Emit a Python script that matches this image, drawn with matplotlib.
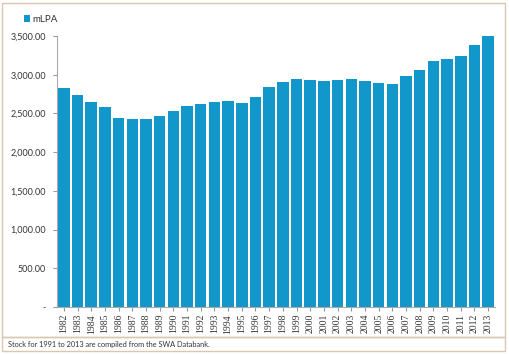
import matplotlib

matplotlib.use('Agg')
import matplotlib.pyplot as plt
from matplotlib.patches import Rectangle
from matplotlib.ticker import FuncFormatter

plt.rcParams['font.family'] = ['Lato', 'DejaVu Sans']

years = [str(y) for y in range(1982, 2014)]
mlpa = [2826, 2739, 2651, 2586, 2443, 2430, 2422, 2465, 2534, 2595,
        2621, 2647, 2656, 2639, 2717, 2840, 2901, 2940, 2935, 2918,
        2926, 2940, 2922, 2892, 2882, 2986, 3064, 3173, 3204, 3238,
        3380, 3503]
note = "Stock for 1991 to 2013 are compiled from the SWA Databank."

W, H = 510, 354
fig = plt.figure(figsize=(W / 100, H / 100), dpi=100)

# axes placed in pixel terms
left, right, top, bottom = 57, 495, 36, 307
ax = fig.add_axes([left / W, 1 - bottom / H, (right - left) / W, (bottom - top) / H])

ax.bar(range(len(years)), mlpa, width=0.84, color='#1197C9', label='mLPA')
ax.set_xlim(-0.5, len(years) - 0.5)
ax.set_ylim(0, 3500)
ax.set_yticks(range(0, 3501, 500))


def fmt(v, pos):
    if v == 0:
        return '-'
    return f"{v:,.2f}"


ax.yaxis.set_major_formatter(FuncFormatter(fmt))
ax.set_xticks(range(len(years)))
ax.set_xticklabels(years, rotation=90, family='Liberation Serif')
ax.tick_params(axis='y', labelsize=6.5, colors='#999999', labelcolor='#333333', length=3, width=0.8, pad=5)
ax.tick_params(axis='x', labelsize=7, colors='#999999', labelcolor='#333333', length=3, width=0.8, pad=2)
for s in ['top', 'right']:
    ax.spines[s].set_visible(False)
for s in ['left', 'bottom']:
    ax.spines[s].set_color('#aaaaaa')
    ax.spines[s].set_linewidth(0.8)

leg = ax.legend(loc='upper left', bbox_to_anchor=(24 / W, 1 - 15 / H), bbox_transform=fig.transFigure,
                frameon=False, fontsize=7, handlelength=0.6, handleheight=0.6, handletextpad=0.3,
                borderpad=0, borderaxespad=0)
for t in leg.get_texts():
    t.set_color('#333333')

# outer chart frame and note box
border = '#D8C8B0'
fig.patches.append(Rectangle((2 / W, 1 - 337 / H), 503 / W, 334 / H, transform=fig.transFigure,
                             fill=False, edgecolor=border, linewidth=1))
fig.patches.append(Rectangle((2 / W, 1 - 351 / H), 503 / W, 14 / H, transform=fig.transFigure,
                             fill=False, edgecolor=border, linewidth=1))
fig.text(8 / W, 1 - 344 / H, note, fontsize=5.3, color='#333333', va='center', ha='left')

fig.savefig('out.png', dpi=100)
plt.close(fig)
